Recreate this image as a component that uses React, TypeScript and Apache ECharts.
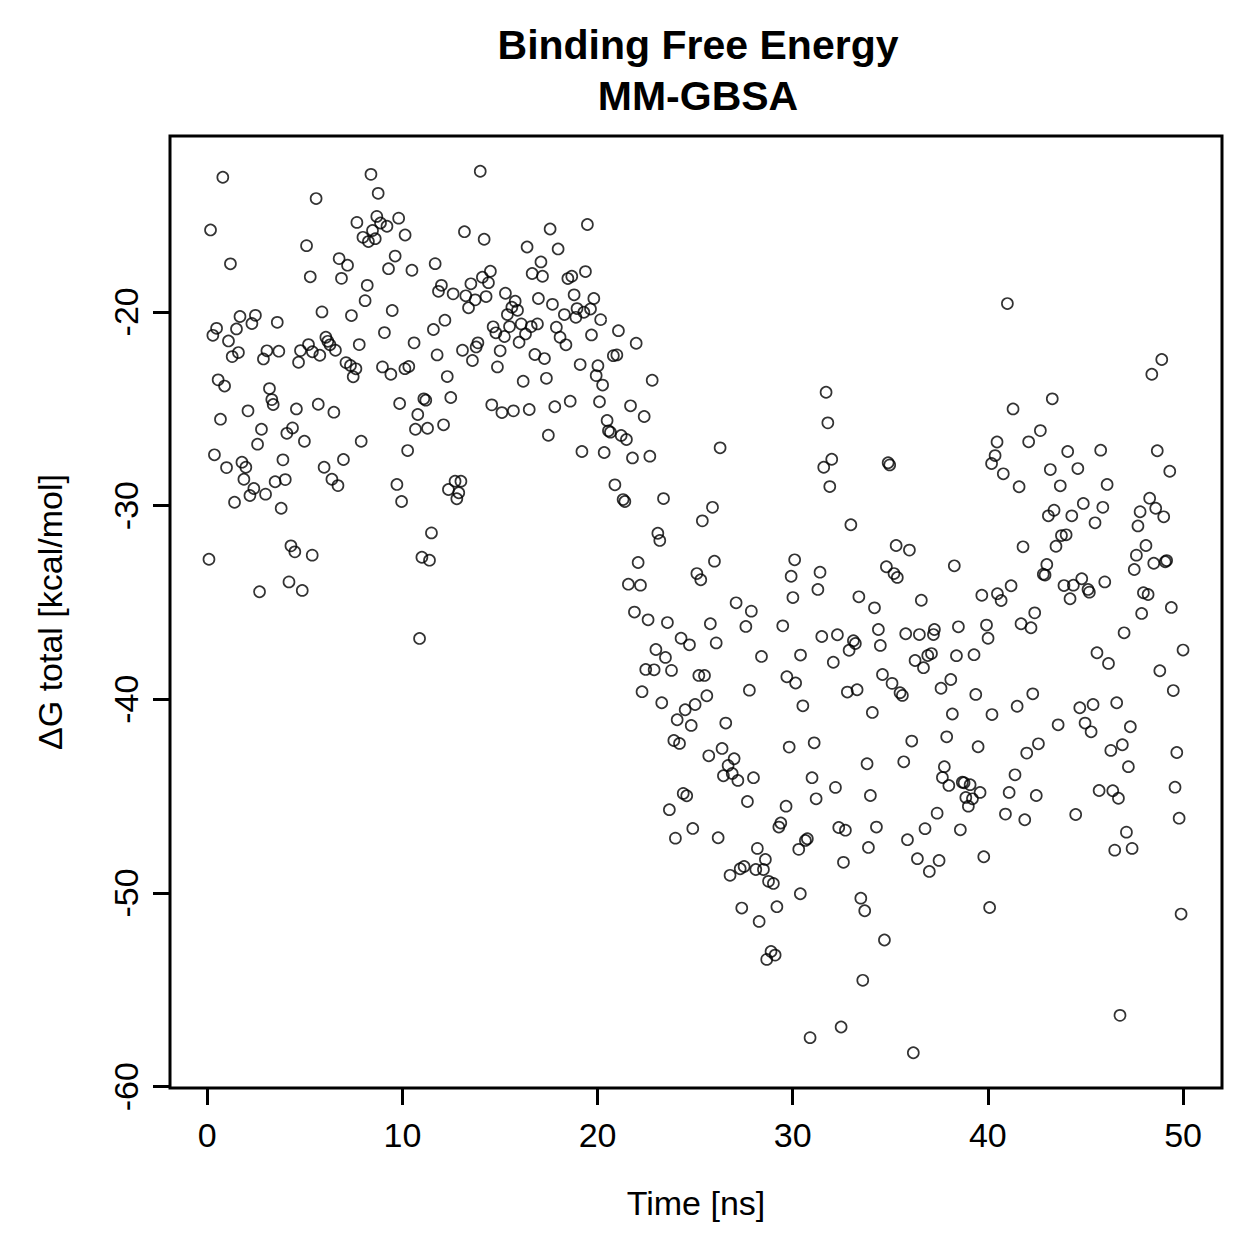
import { useEffect, useRef } from "react";
import * as echarts from "echarts";

// Simulation time of each frame (ns)
const timeNs = [
  0.80, 8.39, 8.76, 5.58, 0.17, 7.67, 8.69, 8.88, 9.21, 9.81,
  10.14, 8.47, 7.98, 8.26, 8.61, 5.09, 1.19, 9.63, 6.76, 7.19,
  9.29, 5.28, 6.88, 8.20, 8.09, 9.48, 5.88, 7.39, 1.68, 2.47,
  2.29, 3.59, 0.48, 0.29, 1.50, 1.09, 9.08, 7.79, 6.08, 6.18,
  6.29, 6.57, 5.19, 4.78, 5.39, 5.77, 4.68, 3.06, 3.67, 2.88,
  1.60, 1.28, 7.11, 7.34, 7.62, 7.48, 8.98, 9.41, 10.13, 10.33,
  0.56, 0.89, 3.19, 3.31, 3.38, 4.57, 5.69, 6.49, 9.86, 2.09,
  0.68, 2.78, 4.37, 4.08, 4.98, 7.89, 2.58, 0.37, 0.99, 1.78,
  1.98, 3.88, 6.98, 5.99, 10.27, 1.88, 3.48, 4.00, 6.39, 6.70,
  2.39, 2.19, 2.99, 1.40, 3.79, 9.72, 9.96, 4.29, 4.49, 5.38,
  0.09, 4.19, 4.87, 2.68, 13.99, 13.18, 14.19, 17.57, 19.48, 16.39,
  17.98, 11.68, 10.49, 17.10, 16.65, 17.18, 18.48, 18.68, 19.38, 14.51,
  14.10, 14.41, 13.51, 12.00, 11.85, 12.60, 13.25, 13.73, 14.29, 13.39,
  15.28, 15.78, 15.61, 15.90, 15.38, 16.97, 17.69, 18.80, 19.81, 18.30,
  18.95, 18.89, 19.30, 19.64, 20.16, 12.18, 11.59, 14.65, 14.79, 15.23,
  15.49, 16.09, 16.31, 16.60, 16.92, 17.89, 18.08, 18.38, 19.69, 15.98,
  10.60, 13.87, 13.78, 13.08, 11.78, 15.01, 16.79, 17.28, 13.59, 14.87,
  12.30, 16.19, 17.38, 19.11, 20.02, 19.93, 20.26, 11.10, 11.20, 12.48,
  10.79, 10.67, 11.29, 12.11, 14.58, 15.10, 15.69, 16.50, 17.81, 18.60,
  20.10, 20.49, 20.56, 20.66, 17.48, 19.20, 20.34, 12.36, 12.70, 13.00,
  12.89, 12.79, 11.49, 11.00, 11.39, 10.88, 21.07, 21.98, 20.81, 20.99,
  22.80, 21.69, 22.39, 21.21, 21.48, 21.79, 22.68, 26.28, 20.89, 21.31,
  21.40, 23.38, 25.89, 25.37, 23.09, 23.19, 22.08, 25.99, 25.09, 25.29,
  21.58, 22.20, 30.10, 29.92, 30.01, 27.10, 27.88, 21.89, 22.59, 23.58,
  25.78, 27.60, 29.49, 24.28, 26.08, 24.71, 22.99, 23.48, 22.47, 22.90,
  23.79, 25.19, 25.48, 28.40, 30.40, 29.70, 30.15, 27.78, 22.28, 23.29,
  25.60, 25.00, 24.49, 24.08, 24.80, 26.57, 30.52, 23.91, 24.20, 26.38,
  25.70, 27.00, 26.69, 26.90, 26.45, 27.19, 27.99, 29.82, 24.39, 24.57,
  23.68, 27.68, 29.66, 29.39, 29.29, 24.88, 23.99, 26.18, 30.31, 28.19,
  28.60, 28.50, 28.11, 27.51, 27.31, 26.79, 28.76, 29.01, 30.39, 27.39,
  29.19, 28.28, 28.89, 29.10, 28.67, 31.71, 31.80, 32.00, 31.59, 31.90,
  34.89, 34.97, 40.47, 40.37, 40.19, 32.98, 35.30, 35.98, 38.28, 31.40,
  31.29, 34.80, 35.19, 35.36, 33.39, 34.19, 36.59, 39.69, 40.49, 31.49,
  32.29, 33.11, 33.21, 32.89, 34.39, 34.49, 35.79, 36.49, 37.26, 37.21,
  38.49, 39.93, 40.01, 32.08, 36.27, 36.70, 36.92, 37.11, 38.39, 39.29,
  34.60, 35.09, 35.50, 35.62, 32.80, 33.30, 38.10, 37.60, 39.38, 34.08,
  38.18, 40.21, 31.10, 36.10, 37.89, 39.50, 33.81, 35.69, 30.99, 32.19,
  31.20, 33.98, 37.77, 37.67, 38.00, 38.69, 38.78, 39.09, 39.60, 38.87,
  39.21, 39.00, 37.40, 36.78, 38.59, 35.88, 32.36, 32.70, 34.29, 30.75,
  30.65, 33.88, 32.60, 36.39, 37.50, 37.00, 39.79, 33.49, 33.69, 40.09,
  34.70, 33.59, 32.48, 30.89, 36.18, 41.00, 48.91, 48.40, 43.30, 41.29,
  42.69, 42.09, 40.79, 41.60, 44.09, 45.78, 48.68, 43.20, 44.61, 49.32,
  43.71, 46.11, 44.89, 45.89, 43.39, 43.10, 44.30, 45.49, 48.29, 47.80,
  48.60, 49.01, 47.69, 43.77, 44.01, 43.49, 41.80, 48.10, 47.61, 48.50,
  49.16, 49.09, 47.50, 43.02, 42.84, 42.93, 43.90, 44.38, 44.81, 45.13,
  45.20, 44.21, 45.99, 41.19, 40.68, 47.97, 48.21, 49.40, 47.88, 42.40,
  41.70, 42.21, 46.98, 45.59, 50.00, 46.18, 48.81, 49.50, 42.30, 41.50,
  43.60, 44.71, 45.39, 44.98, 45.29, 46.60, 47.30, 46.89, 46.30, 47.20,
  42.59, 41.99, 41.39, 49.68, 41.09, 42.48, 45.70, 46.40, 46.69, 49.59,
  40.90, 41.89, 44.50, 49.80, 47.10, 46.50, 47.39, 49.90, 46.77,
];

// MM-GBSA total binding free energy of each frame (kcal/mol)
const deltaG = [
  -13.05, -12.90, -13.88, -14.15, -15.77, -15.38, -15.07, -15.41, -15.58, -15.16,
  -16.03, -15.80, -16.15, -16.37, -16.22, -16.58, -17.52, -17.12, -17.25, -17.59,
  -17.77, -18.19, -18.27, -18.63, -19.42, -19.93, -20.00, -20.19, -20.24, -20.18,
  -20.60, -20.54, -20.85, -21.21, -20.88, -21.50, -21.07, -21.69, -21.31, -21.52,
  -21.70, -21.98, -21.69, -22.00, -22.06, -22.24, -22.60, -22.01, -22.03, -22.43,
  -22.10, -22.31, -22.62, -22.77, -22.94, -23.35, -22.84, -23.22, -22.93, -22.82,
  -23.51, -23.83, -23.96, -24.53, -24.78, -25.01, -24.77, -25.18, -24.73, -25.11,
  -25.54, -26.06, -25.99, -26.27, -26.68, -26.68, -26.83, -27.38, -28.04, -27.76,
  -28.02, -27.64, -27.62, -28.02, -27.16, -28.64, -28.77, -28.66, -28.64, -28.97,
  -29.12, -29.48, -29.41, -29.83, -30.14, -28.91, -29.79, -32.08, -32.39, -32.56,
  -32.77, -33.94, -34.38, -34.45, -12.74, -15.86, -16.25, -15.72, -15.49, -16.65,
  -16.75, -17.51, -17.85, -17.42, -18.02, -18.16, -18.28, -18.16, -17.92, -17.90,
  -18.21, -18.49, -18.55, -18.63, -18.94, -19.07, -19.17, -19.38, -19.21, -19.79,
  -19.04, -19.45, -19.76, -19.92, -20.14, -19.31, -19.61, -19.12, -19.31, -20.14,
  -19.83, -20.28, -20.02, -19.85, -20.40, -20.43, -20.91, -20.77, -21.08, -21.27,
  -20.76, -20.62, -21.14, -20.76, -20.62, -20.79, -21.31, -21.70, -21.19, -21.57,
  -21.60, -21.60, -21.81, -21.98, -22.22, -22.01, -22.20, -22.41, -22.51, -22.84,
  -23.34, -23.58, -23.43, -22.72, -22.78, -23.29, -23.78, -24.49, -24.56, -24.42,
  -25.30, -26.06, -26.01, -25.83, -24.80, -25.20, -25.11, -25.04, -24.90, -24.61,
  -24.64, -25.61, -26.14, -26.21, -26.37, -27.21, -27.26, -29.17, -28.74, -28.74,
  -29.34, -29.65, -31.41, -32.67, -32.82, -36.86, -20.97, -21.62, -22.26, -22.22,
  -23.53, -24.85, -25.40, -26.38, -26.59, -27.54, -27.45, -27.02, -28.93, -29.69,
  -29.79, -29.64, -30.09, -30.79, -31.43, -31.80, -32.94, -32.87, -33.51, -33.83,
  -34.06, -34.11, -32.80, -33.65, -34.75, -35.02, -35.45, -35.50, -35.90, -36.04,
  -36.10, -36.24, -36.21, -36.85, -37.09, -37.19, -37.43, -37.84, -38.46, -38.48,
  -38.51, -38.77, -38.77, -37.79, -37.72, -38.84, -39.16, -39.53, -39.61, -40.18,
  -39.82, -40.27, -40.54, -41.06, -41.35, -41.23, -40.34, -42.13, -42.28, -42.54,
  -42.92, -43.07, -43.42, -43.83, -43.95, -44.19, -44.05, -42.47, -44.86, -44.98,
  -45.70, -45.28, -45.52, -46.39, -46.60, -46.67, -47.17, -47.15, -47.75, -47.70,
  -48.27, -48.79, -48.79, -48.63, -48.75, -49.09, -49.40, -49.51, -50.04, -50.78,
  -50.71, -51.47, -53.02, -53.21, -53.43, -24.15, -25.73, -27.61, -28.02, -29.02,
  -27.79, -27.90, -26.72, -27.42, -27.83, -30.99, -32.06, -32.30, -33.11, -33.44,
  -34.33, -33.16, -33.51, -33.71, -34.71, -35.28, -34.89, -34.63, -34.55, -36.76,
  -36.67, -36.98, -37.12, -37.47, -36.40, -37.22, -36.62, -36.66, -36.40, -36.66,
  -36.26, -36.17, -36.85, -38.09, -38.00, -38.37, -37.74, -37.64, -37.75, -37.70,
  -38.72, -39.18, -39.66, -39.80, -39.63, -39.51, -38.98, -39.43, -39.75, -40.68,
  -40.76, -40.79, -42.25, -42.16, -41.94, -42.45, -43.33, -43.23, -44.05, -44.55,
  -45.14, -44.97, -43.48, -44.04, -44.45, -44.28, -44.31, -44.41, -44.81, -45.07,
  -45.14, -45.52, -45.88, -46.68, -46.74, -47.25, -46.62, -46.76, -46.60, -47.20,
  -47.29, -47.65, -48.42, -48.23, -48.32, -48.89, -48.13, -50.27, -50.92, -50.75,
  -52.43, -54.51, -56.92, -57.47, -58.25, -19.57, -22.46, -23.22, -24.49, -25.01,
  -26.13, -26.71, -28.36, -29.03, -27.21, -27.14, -27.17, -28.14, -28.09, -28.23,
  -28.98, -28.91, -29.89, -30.09, -30.24, -30.53, -30.53, -30.89, -29.62, -30.32,
  -30.14, -30.58, -31.05, -31.55, -31.51, -32.10, -32.13, -32.06, -32.56, -32.98,
  -32.84, -32.90, -33.30, -33.04, -33.54, -33.59, -34.13, -34.11, -33.78, -34.33,
  -34.47, -34.81, -33.94, -34.14, -34.90, -34.50, -34.59, -35.26, -35.57, -35.54,
  -36.10, -36.31, -36.57, -37.60, -37.46, -38.15, -38.53, -39.55, -39.72, -40.36,
  -41.32, -40.44, -40.27, -41.23, -41.68, -40.18, -41.42, -42.35, -42.64, -43.48,
  -42.30, -42.78, -43.90, -42.75, -44.81, -44.97, -44.71, -44.72, -45.11, -44.54,
  -45.93, -46.22, -45.95, -46.14, -46.86, -47.79, -47.70, -51.09, -56.32,
];

const xTicks = [0, 10, 20, 30, 40, 50];
const yTicks = [-60, -50, -40, -30, -20];

const FONT = "'Liberation Sans', Arial, Helvetica, sans-serif";

// Axis range padded by 4% of the data span on each side
function paddedRange(values: number[]): [number, number] {
  const lo = Math.min(...values);
  const hi = Math.max(...values);
  const pad = (hi - lo) * 0.04;
  return [lo - pad, hi + pad];
}

export default function App() {
  const ref = useRef<HTMLDivElement>(null);

  useEffect(() => {
    if (!ref.current) return;
    const chart = echarts.init(ref.current, null, { renderer: "svg" });
    const [xMin, xMax] = paddedRange(timeNs);
    const [yMin, yMax] = paddedRange(deltaG);

    chart.setOption({
      animation: false,
      backgroundColor: "#ffffff",
      textStyle: { fontFamily: FONT, color: "#000" },
      title: {
        text: "Binding Free Energy\nMM-GBSA",
        left: 693,
        top: 14,
        textAlign: "center",
        textStyle: {
          fontFamily: FONT,
          fontSize: 41,
          fontWeight: "bold",
          lineHeight: 51,
          color: "#000",
        },
      },
      grid: {
        left: 170,
        right: 37,
        top: 136,
        bottom: 171,
        show: true,
        borderColor: "#000",
        borderWidth: 3,
        backgroundColor: "transparent",
      },
      xAxis: {
        type: "value",
        min: xMin,
        max: xMax,
        name: "Time [ns]",
        nameLocation: "middle",
        nameGap: 98,
        nameTextStyle: { fontFamily: FONT, fontSize: 34, color: "#000" },
        axisLine: { show: false, onZero: false },
        axisTick: {
          show: true,
          inside: false,
          length: 17,
          customValues: xTicks,
          lineStyle: { color: "#000", width: 3 },
        },
        axisLabel: {
          customValues: xTicks,
          fontFamily: FONT,
          fontSize: 34,
          color: "#000",
          margin: 30,
        },
        splitLine: { show: false },
      },
      yAxis: {
        type: "value",
        min: yMin,
        max: yMax,
        name: "ΔG total [kcal/mol]",
        nameLocation: "middle",
        nameGap: 103,
        nameTextStyle: { fontFamily: FONT, fontSize: 34, color: "#000" },
        axisLine: { show: false, onZero: false },
        axisTick: {
          show: true,
          inside: false,
          length: 17,
          customValues: yTicks,
          lineStyle: { color: "#000", width: 3 },
        },
        axisLabel: {
          customValues: yTicks,
          rotate: 90,
          fontFamily: FONT,
          fontSize: 34,
          color: "#000",
          margin: 27,
        },
        splitLine: { show: false },
      },
      series: [
        {
          type: "scatter",
          data: timeNs.map((t, i) => [t, deltaG[i]]),
          symbol: "circle",
          symbolSize: 11,
          itemStyle: {
            color: "transparent",
            borderColor: "#000",
            borderWidth: 1.7,
          },
          emphasis: { disabled: true },
        },
      ],
    });

    return () => chart.dispose();
  }, []);

  return (
    <div
      ref={ref}
      style={{ position: "fixed", left: 0, top: 0, width: 1259, height: 1259 }}
    />
  );
}
